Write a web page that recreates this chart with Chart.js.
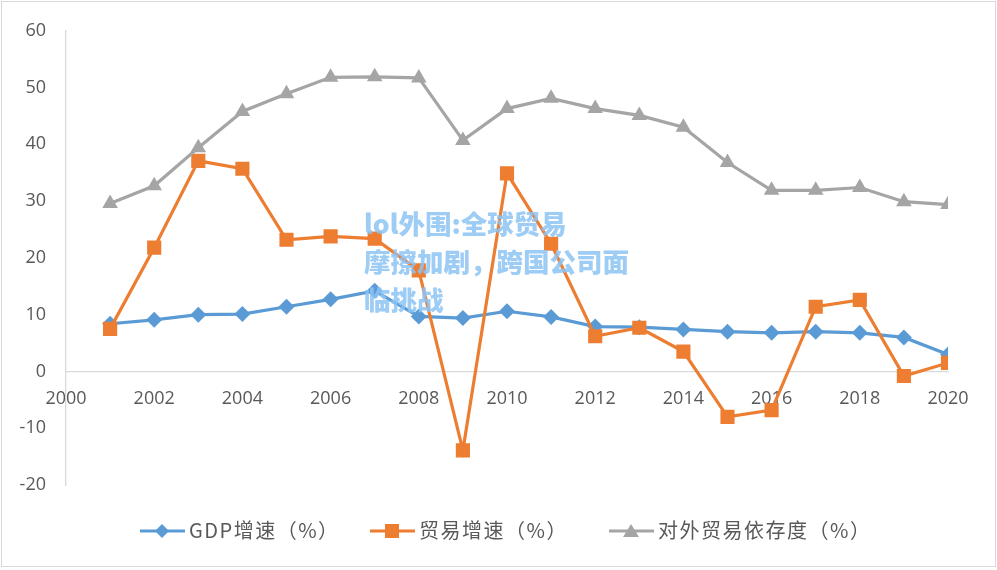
<!DOCTYPE html>
<html>
<head>
<meta charset="utf-8">
<script src="https://cdn.jsdelivr.net/npm/chart.js@4.4.1/dist/chart.umd.min.js"></script>
<style>
  html, body { margin: 0; padding: 0; background: #fff; }
  #wrap { position: relative; width: 997px; height: 570px; overflow: hidden; }
  #frame { position: absolute; left: 1px; top: 1px; width: 993px; height: 564px; border: 1px solid #d9d9d9; box-sizing: content-box; pointer-events: none; }
  #c { position: absolute; left: 0; top: 0; }
  #legend { position: absolute; left: 0; top: 516px; width: 997px; height: 30px; font-family: "Noto Sans CJK SC", "Noto Sans", sans-serif; font-size: 20px; letter-spacing: 1.5px; color: #595959; }
  .item { position: absolute; top: 0; height: 30px; line-height: 30px; white-space: nowrap; }
  .item svg { position: absolute; left: 0; top: 7px; }
  .item span { position: absolute; top: -1px; }
  #title { position: absolute; left: 364px; top: 204px; width: 300px; font-family: "Noto Sans CJK SC", sans-serif; font-weight: 900; font-size: 26.5px; line-height: 38px; color: #8cc3f4; opacity: 0.85; white-space: nowrap; }
</style>
</head>
<body>
<div id="wrap">
  <canvas id="c" width="997" height="570"></canvas>
  <div id="frame"></div>
  <div id="legend"></div>
  <div id="title">lol外围:全球贸易<br>摩擦加剧，跨国公司面<br>临挑战</div>
</div>
<script>
const years = [2001, 2002, 2003, 2004, 2005, 2006, 2007, 2008, 2009, 2010,
               2011, 2012, 2013, 2014, 2015, 2016, 2017, 2018, 2019, 2020];
const gdpGrowth = [8.4, 9.1, 10.0, 10.1, 11.4, 12.7, 14.2, 9.7, 9.4, 10.6,
                   9.6, 7.9, 7.8, 7.4, 7.0, 6.8, 7.0, 6.8, 6.0, 3.0];
const tradeGrowth = [7.5, 21.8, 37.1, 35.7, 23.2, 23.8, 23.4, 17.8, -13.9, 34.9,
                     22.5, 6.2, 7.7, 3.5, -8.0, -6.8, 11.4, 12.6, -0.8, 1.5];
const tradeDependency = [29.6, 32.7, 39.4, 45.8, 48.9, 51.8, 51.9, 51.7, 40.7, 46.3,
                         48.1, 46.3, 45.1, 43.0, 36.8, 31.9, 31.9, 32.4, 29.9, 29.4];
const seriesNames = ["GDP增速（%）", "贸易增速（%）", "对外贸易依存度（%）"];
const xTickLabels = ["2000", "2002", "2004", "2006", "2008", "2010", "2012", "2014", "2016", "2018", "2020"];
const yTickLabels = ["-20", "-10", "0", "10", "20", "30", "40", "50", "60"];

const colors = ["#5b9bd5", "#ed7d31", "#a5a5a5"];
const styles = ["rectRot", "rect", "triangle"];
const radii = [8, 10, 9];
const allSeries = [gdpGrowth, tradeGrowth, tradeDependency];

const datasets = allSeries.map((vals, i) => ({
  label: seriesNames[i],
  data: years.map((yr, k) => ({ x: yr, y: vals[k] })),
  borderColor: colors[i],
  backgroundColor: colors[i],
  borderWidth: 3.2,
  pointStyle: styles[i],
  pointRadius: radii[i],
  pointBorderWidth: 0,
  pointBackgroundColor: colors[i],
  tension: 0,
  order: [2, 1, 0][i]
}));

new Chart(document.getElementById("c"), {
  type: "line",
  data: { datasets },
  options: {
    responsive: false,
    animation: false,
    layout: { padding: { left: 0, top: 27, right: 49, bottom: 85 } },
    plugins: { legend: { display: false }, tooltip: { enabled: false } },
    scales: {
      x: {
        type: "linear",
        min: 2000, max: 2020,
        position: { y: 0 },
        grid: { display: false, drawTicks: false },
        border: { display: true, color: "#d9d9d9", width: 1.3 },
        ticks: {
          stepSize: 2,
          padding: 17,
          color: "#595959",
          font: { family: "Open Sans", size: 18 },
          maxRotation: 0,
          autoSkip: false,
          callback: (v) => xTickLabels.includes(String(v)) ? String(v) : ""
        }
      },
      y: {
        min: -20, max: 60,
        grid: { display: false, drawTicks: false },
        border: { display: true, color: "#d9d9d9", width: 1.3 },
        afterFit: (s) => { s.width = 66; },
        ticks: {
          stepSize: 10,
          padding: 20,
          color: "#595959",
          font: { family: "Open Sans", size: 18 },
          callback: (v) => yTickLabels.includes(String(v)) ? String(v) : ""
        }
      }
    }
  }
});

// HTML legend
const legend = document.getElementById("legend");
const legendX = [140, 370, 609];
function iconSvg(i) {
  const c = colors[i];
  let mark = "";
  if (i === 0) mark = `<polygon points="22,8 29,15 22,22 15,15" fill="${c}"/>`;
  if (i === 1) mark = `<rect x="15" y="8" width="14" height="14" fill="${c}"/>`;
  if (i === 2) mark = `<polygon points="22,8 30,21 14,21" fill="${c}"/>`;
  return `<svg style="top:0" width="45" height="30" viewBox="0 0 45 30"><line x1="0" y1="15" x2="45" y2="15" stroke="${c}" stroke-width="3.2"/>${mark}</svg>`;
}
seriesNames.forEach((name, i) => {
  const d = document.createElement("div");
  d.className = "item";
  d.style.left = legendX[i] + "px";
  d.innerHTML = iconSvg(i) + `<span style="left:49px">${name}</span>`;
  legend.appendChild(d);
});
</script>
</body>
</html>
